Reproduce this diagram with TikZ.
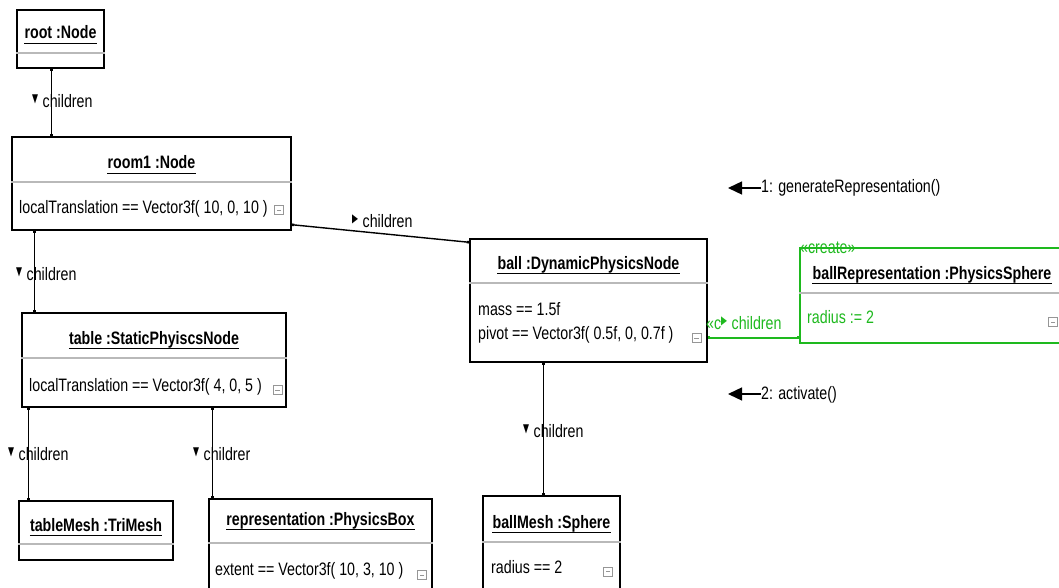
\documentclass[tikz,border=0pt]{standalone}
\usepackage{fontspec}
\setmainfont{Liberation Sans}[FakeStretch=0.79]
\newfontfamily\symf{DejaVu Sans}[FakeStretch=0.65]
\usetikzlibrary{arrows.meta,fit,calc}

\definecolor{umlgreen}{RGB}{30,185,30}
\definecolor{sepgray}{RGB}{185,185,185}
\definecolor{icongray}{RGB}{150,150,150}

% direction markers in front of link names
\newcommand{\mkdown}{\raisebox{5pt}{\symf\fontsize{12}{12}\selectfont ▼}\hspace{4.5pt}}
\newcommand{\mkright}{\raisebox{4.5pt}{\symf\fontsize{12}{12}\selectfont ▶}\hspace{4.5pt}}

% underlined object title
\newcommand{\objtitle}[3]{%
  \node[ttl] (#1) at #2 {#3};
  \draw[uline] ([yshift=-4.5pt]#1.base west) -- ([yshift=-4.5pt]#1.base east);}

\begin{document}
\begin{tikzpicture}[x=1pt, y=-1pt,
  font=\fontsize{18}{21}\selectfont,
  obj/.style={draw=black, line width=1.4pt, inner sep=0pt, fill=white},
  newobj/.style={obj, draw=umlgreen},
  ttl/.style={inner sep=0pt, anchor=base, font=\fontsize{18}{21}\selectfont\bfseries},
  attr/.style={inner sep=0pt, anchor=base west},
  lbl/.style={inner sep=0pt, anchor=base west},
  sep/.style={draw=sepgray, line width=1.6pt},
  uline/.style={line width=1.3pt},
  conn/.style={line width=1.4pt, {Square[length=2.5pt,width=2.5pt]}-{Square[length=2.5pt,width=2.5pt]}},
  msg/.style={line width=1.4pt, -{Triangle[length=14pt,width=13pt]}},
  icon/.style={draw=icongray, line width=0.8pt, minimum size=9pt, inner sep=0pt,
    path picture={\draw[icongray, line width=0.8pt]
      ([xshift=2.2pt]path picture bounding box.center) -- ([xshift=-2.2pt]path picture bounding box.center);}}
]
\useasboundingbox (0,0) rectangle (1059,588);
\fill[white] (0,0) rectangle (1059,588);
\clip (0,0) rectangle (1059,588);

% ---------- object boxes ----------
\node[obj, fit={(17,10)(104,68)}] (root) {};
\node[obj, fit={(12,137)(291,230)}] (room1) {};
\node[obj, fit={(22,313)(286,407)}] (table) {};
\node[obj, fit={(19,501)(173,560)}] (tmesh) {};
\node[obj, fit={(209,499)(432,600)}] (repr) {};
\node[obj, fit={(470,239)(707,362)}] (ball) {};
\node[obj, fit={(483,496)(620,600)}] (bmesh) {};
\node[newobj, fit={(800,248)(1064,343)}] (brep) {};

% ---------- titles ----------
\objtitle{rootT}{(root.north |- 0,39)}{root :Node}
\objtitle{room1T}{(room1.north |- 0,169)}{room1 :Node}
\objtitle{tableT}{(table.north |- 0,344)}{table :StaticPhyiscsNode}
\objtitle{tmeshT}{(tmesh.north |- 0,531)}{tableMesh :TriMesh}
\objtitle{reprT}{(repr.north |- 0,525)}{representation :PhysicsBox}
\objtitle{ballT}{(ball.north |- 0,269)}{ball :DynamicPhysicsNode}
\objtitle{bmeshT}{(bmesh.north |- 0,528)}{ballMesh :Sphere}
\objtitle{brepT}{(brep.north |- 0,279)}{ballRepresentation :PhysicsSphere}

% ---------- compartment separators ----------
\draw[sep] (root.west |- 0,53) -- (root.east |- 0,53);
\draw[sep] (room1.west |- 0,182) -- (room1.east |- 0,182);
\draw[sep] (table.west |- 0,358) -- (table.east |- 0,358);
\draw[sep] (tmesh.west |- 0,544) -- (tmesh.east |- 0,544);
\draw[sep] (repr.west |- 0,543) -- (repr.east |- 0,543);
\draw[sep] (ball.west |- 0,283) -- (ball.east |- 0,283);
\draw[sep] (bmesh.west |- 0,542) -- (bmesh.east |- 0,542);
\draw[sep] (brep.west |- 0,293) -- (brep.east |- 0,293);

% ---------- attribute values ----------
\node[attr] (room1A) at (19,213) {localTranslation == Vector3f( 10, 0, 10 )};
\node[attr] (tableA) at (29,391) {localTranslation == Vector3f( 4, 0, 5 )};
\node[attr] (reprA) at (215,575) {extent == Vector3f( 10, 3, 10 )};
\node[attr] (ballA1) at (478,315) {mass == 1.5f};
\node[attr] (ballA2) at (478,339) {pivot == Vector3f( 0.5f, 0, 0.7f )};
\node[attr] (bmeshA) at (491,573) {radius == 2};
\node[attr, text=umlgreen] (brepA) at (807,323) {radius := 2};
\node[attr, text=umlgreen] (brepS) at (800,253) {«create»};

% ---------- collapse toggles ----------
\node[icon] (room1I) at (279,210) {};
\node[icon] (tableI) at (277.5,390) {};
\node[icon] (ballI) at (696.5,338) {};
\node[icon] (reprI) at (422,575) {};
\node[icon] (bmeshI) at (608,571.5) {};
\node[icon] (brepI) at (1053,322) {};

% ---------- links ----------
\coordinate (c1) at ([xshift=35pt]root.south west);
\draw[conn] (c1) -- (c1 |- room1.north);
\coordinate (c2) at ([xshift=23pt]room1.south west);
\draw[conn] (c2) -- (c2 |- table.north);
\draw[conn] ([yshift=6pt]room1.south east) -- ([yshift=-4pt]ball.north west);
\coordinate (c4) at ([xshift=7pt]table.south west);
\draw[conn] (c4) -- (c4 |- tmesh.north);
\coordinate (c5) at ([xshift=191pt]table.south west);
\draw[conn] (c5) -- (c5 |- repr.north);
\coordinate (c6) at ([xshift=74pt]ball.south west);
\draw[conn] (c6) -- (c6 |- bmesh.north);
\coordinate (c7) at ([yshift=25pt]ball.south east);
\draw[conn, color=umlgreen, line width=1.6pt] (c7) -- (c7 -| brep.west);

% ---------- link labels ----------
\node[lbl] (l1) at (32,108) {\mkdown children};
\node[lbl] (l2) at (16,280) {\mkdown children};
\node[lbl] (l3) at (352,227) {\mkright children};
\node[lbl] (l4) at (8,460) {\mkdown children};
\node[lbl] (l5) at (193,460) {\mkdown childrer};
\node[lbl] (l6) at (523,437) {\mkdown children};
\node[lbl, text=umlgreen] (l7) at (706,329) {«c\mkright children};

% ---------- messages ----------
\node[lbl] (m1) at (761,193) {1: generateRepresentation()};
\coordinate (m1tip) at (728,188);
\draw[msg] (m1.base west |- m1tip) -- (m1tip);
\node[lbl] (m2) at (761,399) {2: activate()};
\coordinate (m2tip) at (728,394);
\draw[msg] (m2.base west |- m2tip) -- (m2tip);
\end{tikzpicture}
\end{document}
